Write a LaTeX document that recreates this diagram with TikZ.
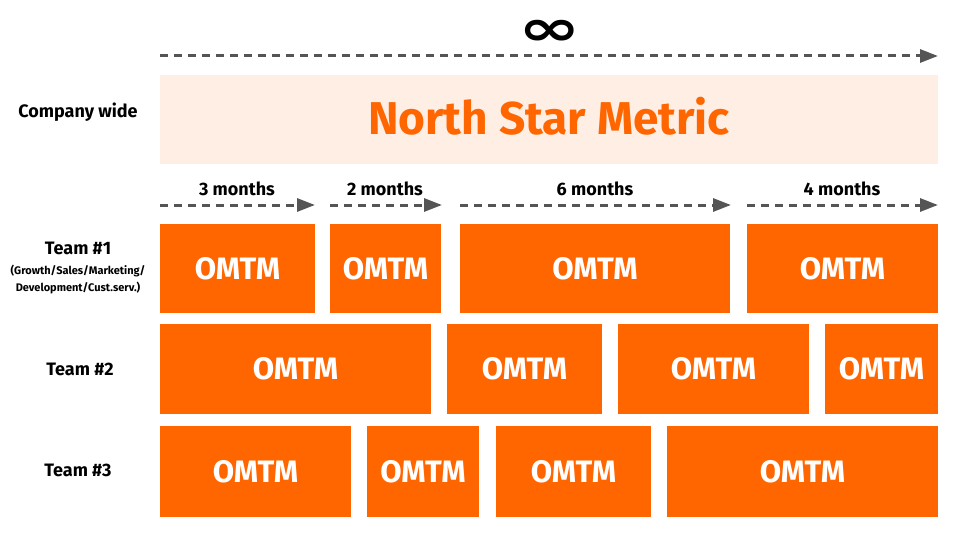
\documentclass[tikz,border=0pt]{standalone}
\usepackage{fontspec}
\setmainfont{Fira Sans}
\newfontfamily\symfont{DejaVu Sans}
\usetikzlibrary{arrows.meta}
\definecolor{omorange}{HTML}{FF6600}
\definecolor{nsmbg}{HTML}{FEEEE4}
\definecolor{arrgray}{HTML}{555555}
\tikzset{
  omtm/.style={fill=omorange, draw=none, inner sep=0pt, text=white,
    font=\fontsize{31}{33}\selectfont\bfseries},
  lbl/.style={inner sep=0pt, text=black, font=\fontsize{18}{20}\selectfont\bfseries},
  sublbl/.style={inner sep=0pt, text=black, font=\fontsize{11}{13}\selectfont\bfseries},
  timearrow/.style={draw=arrgray, line width=3pt, dash pattern=on 8pt off 6pt,
    -{Triangle[length=18pt,width=13pt]}},
}
\begin{document}
\begin{tikzpicture}[x=1pt,y=-1pt]
\useasboundingbox (0,0) rectangle (960,540);
% infinity arrow
\coordinate (i0) at (160,56);
\coordinate (i1) at (938,56);
\draw[timearrow] (i0) -- (i1);
\node[inner sep=0pt, xscale=1.5, font=\fontsize{50}{52}\selectfont\symfont\bfseries] (inf) at (549.5,32.5) {∞};
% north star
\node[fill=nsmbg, inner sep=0pt, minimum width=778pt, minimum height=89pt] (nsm) at (549,119.5) {};
\node[inner sep=0pt, text=omorange, font=\fontsize{46}{48}\selectfont\bfseries] (nsmt) at (549,116.5) {North Star Metric};
\node[lbl] (cw) at (78,112) {Company wide};
% month arrows
\coordinate (a0) at (160,205); \coordinate (a1) at (315,205);
\coordinate (b0) at (330,205); \coordinate (b1) at (442,205);
\coordinate (c0) at (460,205); \coordinate (c1) at (731,205);
\coordinate (d0) at (747,205); \coordinate (d1) at (938,205);
\draw[timearrow] (a0) -- (a1);
\draw[timearrow] (b0) -- (b1);
\draw[timearrow] (c0) -- (c1);
\draw[timearrow] (d0) -- (d1);
\node[lbl] (m3) at (237,189) {3 months};
\node[lbl] (m2) at (385,189) {2 months};
\node[lbl] (m6) at (595,189) {6 months};
\node[lbl] (m4) at (842,189) {4 months};
% row labels
\node[lbl] (t1) at (78,248) {Team \#1};
\node[sublbl] (t1a) at (78,271) {(Growth/Sales/Marketing/};
\node[sublbl] (t1b) at (78,288) {Development/Cust.serv.)};
\node[lbl] (t2) at (80,369) {Team \#2};
\node[lbl] (t3) at (78,470) {Team \#3};
% row 1
\node[omtm, minimum width=155pt, minimum height=89pt] (r1a) at (237.5,268.5) {OMTM};
\node[omtm, minimum width=111pt, minimum height=89pt] (r1b) at (385.5,268.5) {OMTM};
\node[omtm, minimum width=270pt, minimum height=89pt] (r1c) at (595,268.5) {OMTM};
\node[omtm, minimum width=191pt, minimum height=89pt] (r1d) at (842.5,268.5) {OMTM};
% row 2
\node[omtm, minimum width=271pt, minimum height=90pt] (r2a) at (295.5,369) {OMTM};
\node[omtm, minimum width=155pt, minimum height=90pt] (r2b) at (524.5,369) {OMTM};
\node[omtm, minimum width=191pt, minimum height=90pt] (r2c) at (713.5,369) {OMTM};
\node[omtm, minimum width=113pt, minimum height=90pt] (r2d) at (881.5,369) {OMTM};
% row 3
\node[omtm, minimum width=191pt, minimum height=91pt] (r3a) at (255.5,471.5) {OMTM};
\node[omtm, minimum width=112pt, minimum height=91pt] (r3b) at (423,471.5) {OMTM};
\node[omtm, minimum width=155pt, minimum height=91pt] (r3c) at (573.5,471.5) {OMTM};
\node[omtm, minimum width=271pt, minimum height=91pt] (r3d) at (802.5,471.5) {OMTM};
\end{tikzpicture}
\end{document}
